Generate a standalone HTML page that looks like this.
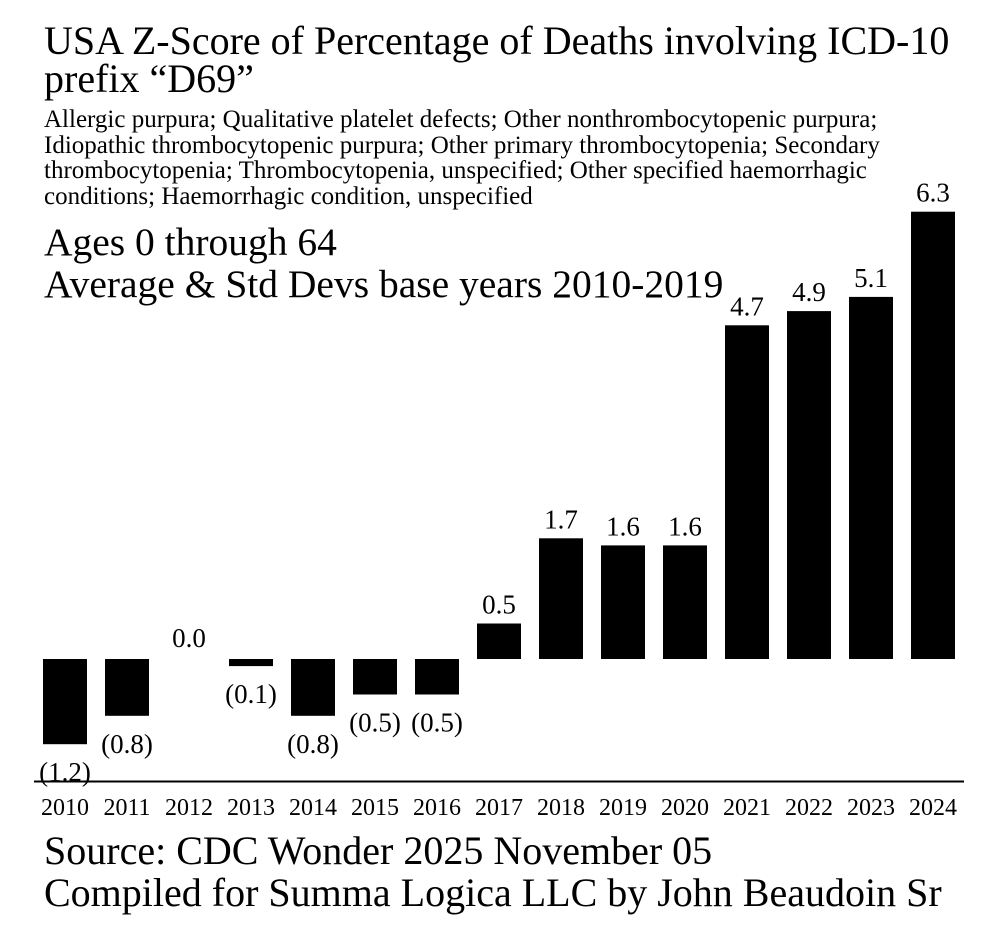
<!DOCTYPE html>
<html><head><meta charset="utf-8"><style>
body{margin:0;background:#fff;font-family:"Liberation Serif",serif;}
#wrap{position:relative;width:1008px;height:948px;overflow:hidden}
.t{position:absolute;left:44px;white-space:nowrap;color:#000}
</style></head><body>
<div id="wrap">
<div class="t" style="top:22px;font-size:40px;line-height:38px">USA Z-Score of Percentage of Deaths involving ICD-10<br>prefix “D69”</div>
<div class="t" style="top:107px;font-size:25px;line-height:25.5px">Allergic purpura; Qualitative platelet defects; Other nonthrombocytopenic purpura;<br>Idiopathic thrombocytopenic purpura; Other primary thrombocytopenia; Secondary<br>thrombocytopenia; Thrombocytopenia, unspecified; Other specified haemorrhagic<br>conditions; Haemorrhagic condition, unspecified</div>
<div class="t" style="top:221px;font-size:39.5px;line-height:42px">Ages 0 through 64</div>
<div class="t" style="top:263px;font-size:39.5px;line-height:42px">Average &amp; Std Devs base years 2010-2019</div>
<svg id="svg" width="1008" height="948" style="position:absolute;left:0;top:0"></svg>
<div class="t" style="top:830px;font-size:40px;line-height:42px">Source: CDC Wonder 2025 November 05<br>Compiled for Summa Logica LLC by John Beaudoin Sr</div>
</div>
<script>
const categories=["2010","2011","2012","2013","2014","2015","2016","2017","2018","2019","2020","2021","2022","2023","2024"];
const values=[-1.2,-0.8,0.0,-0.1,-0.8,-0.5,-0.5,0.5,1.7,1.6,1.6,4.7,4.9,5.1,6.3];
const labels=["(1.2)","(0.8)","0.0","(0.1)","(0.8)","(0.5)","(0.5)","0.5","1.7","1.6","1.6","4.7","4.9","5.1","6.3"];
const svg=document.getElementById('svg');const NS='http://www.w3.org/2000/svg';
const zeroY=659, pxPerUnit=71;
function y(v){return zeroY-v*pxPerUnit;}
function x(i){return 65+62*i;}
const bw=44;
function mk(t,a){const e=document.createElementNS(NS,t);for(const k in a)e.setAttribute(k,a[k]);svg.appendChild(e);return e;}
values.forEach((v,i)=>{
  const top=Math.min(y(v),y(0)), h=Math.abs(y(v)-y(0));
  const r=mk('rect',{x:x(i)-bw/2,y:top,width:bw,height:h,fill:'#000'});
  
  
  const ty = v>0 ? y(v)-10 : (v<0 ? y(v)+37 : y(0)-12);
  const t=mk('text',{x:x(i),y:ty,'text-anchor':'middle','font-size':27,'font-family':'Liberation Serif, serif'});
  t.textContent=labels[i];
  
  
  const c=mk('text',{x:x(i),y:815,'text-anchor':'middle','font-size':24,'font-family':'Liberation Serif, serif'});
  c.textContent=categories[i];
  
  
});
const ax=mk('line',{x1:34,x2:964,y1:781.5,y2:781.5,stroke:'#000','stroke-width':2});


</script>
</body></html>
